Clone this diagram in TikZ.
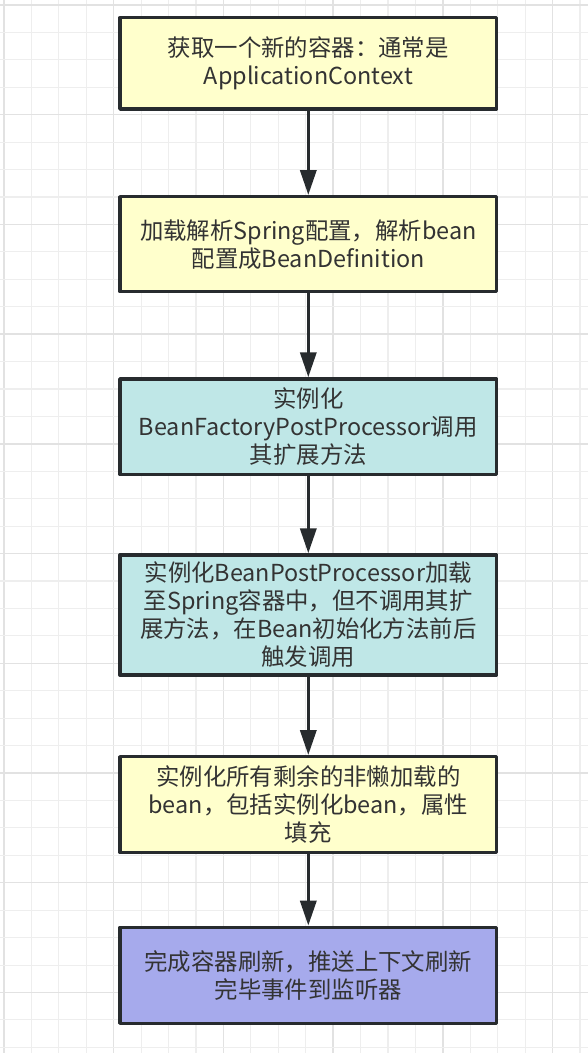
\documentclass[tikz,border=0pt]{standalone}
\usepackage{fontspec}
\setmainfont{Noto Sans CJK SC}
\usetikzlibrary{arrows.meta}
\definecolor{yelfill}{HTML}{FFFFCC}
\definecolor{tealfill}{HTML}{BFE7E7}
\definecolor{purpfill}{HTML}{A6AAEC}
\definecolor{edgecol}{HTML}{272B2E}
\definecolor{txtcol}{HTML}{333333}
\definecolor{gridminor}{HTML}{EEEEEE}
\definecolor{gridmajor}{HTML}{E2E2E2}
\tikzset{
  stepbox/.style={draw=edgecol, line width=3.3pt, line join=round, rectangle,
    minimum width=376.7pt, inner sep=0pt, align=center, text=txtcol,
    font=\fontsize{23.4}{28}\selectfont},
  flowarrow/.style={draw=edgecol, line width=3.5pt,
    -{Triangle[length=25pt,width=16pt]}},
}
\begin{document}
\begin{tikzpicture}[x=1pt,y=-1pt]
\useasboundingbox (0,0) rectangle (588,1053);
\fill[white] (0,0) rectangle (588,1053);
% grid
\foreach \k in {0,...,21}{
  \pgfmathsetmacro{\xx}{4+27.43*\k}
  \pgfmathtruncatemacro{\mm}{mod(\k,4)}
  \ifnum\mm=0
    \draw[gridmajor, line width=1.4pt] (\xx,0) -- (\xx,1053);
  \else
    \draw[gridminor, line width=1.1pt] (\xx,0) -- (\xx,1053);
  \fi
}
\foreach \k in {0,...,38}{
  \pgfmathsetmacro{\yy}{5+27.43*\k}
  \pgfmathtruncatemacro{\mm}{mod(\k,4)}
  \ifnum\mm=0
    \draw[gridmajor, line width=1.4pt] (0,\yy) -- (588,\yy);
  \else
    \draw[gridminor, line width=1.1pt] (0,\yy) -- (588,\yy);
  \fi
}
% boxes
\node[stepbox, fill=yelfill, minimum height=91.3pt] (b1) at (308.3,63.4)
  {获取一个新的容器：通常是\\ApplicationContext};
\node[stepbox, fill=yelfill, minimum height=95pt] (b2) at (308.3,244.2)
  {加载解析Spring配置，解析bean\\配置成BeanDefinition};
\node[stepbox, fill=tealfill, minimum height=95.5pt] (b3) at (308.3,426.7)
  {实例化\\BeanFactoryPostProcessor调用\\其扩展方法};
\node[stepbox, fill=tealfill, minimum height=120pt] (b4) at (308.3,615)
  {实例化BeanPostProcessor加载\\至Spring容器中，但不调用其扩\\展方法，在Bean初始化方法前后\\触发调用};
\node[stepbox, fill=yelfill, minimum height=95.8pt] (b5) at (308.3,804.6)
  {实例化所有剩余的非懒加载的\\bean，包括实例化bean，属性\\填充};
\node[stepbox, fill=purpfill, minimum height=96pt] (b6) at (308.3,975.3)
  {完成容器刷新，推送上下文刷新\\完毕事件到监听器};
% arrows
\draw[flowarrow] (b1.south) -- (b2.north);
\draw[flowarrow] (b2.south) -- (b3.north);
\draw[flowarrow] (b3.south) -- (b4.north);
\draw[flowarrow] (b4.south) -- (b5.north);
\draw[flowarrow] (b5.south) -- (b6.north);
\end{tikzpicture}
\end{document}
